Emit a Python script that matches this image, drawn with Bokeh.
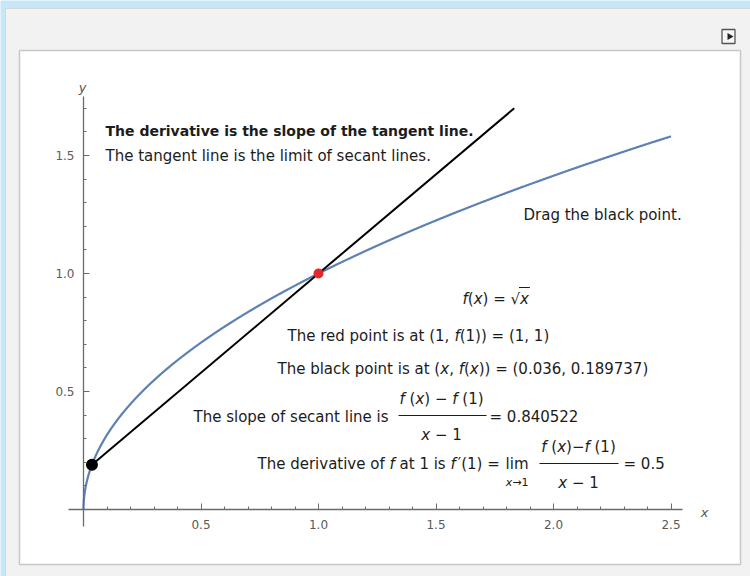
import numpy as np
from bokeh.plotting import figure
from bokeh.models import LinearAxis, FixedTicker, PrintfTickFormatter, Range1d
from bokeh.core.properties import value
from bokeh.embed import file_html
from bokeh.resources import INLINE

# ---- data -------------------------------------------------------------
x_red = [1.0]          # fixed point (1, f(1))
y_red = [1.0]
x_black = [0.036]      # draggable point (x, f(x))
y_black = [0.189737]
x_domain = [0.0, 2.5]  # plotted domain of f(x) = sqrt(x)
y_plot_top = 1.7       # upper edge of the plot range (secant line is clipped here)
derivative_at_1 = 0.5

x_ticks = [0.5, 1.0, 1.5, 2.0, 2.5]
y_ticks = [0.5, 1.0, 1.5]
x_minor = [0.1, 0.2, 0.3, 0.4, 0.6, 0.7, 0.8, 0.9, 1.1, 1.2, 1.3, 1.4,
           1.6, 1.7, 1.8, 1.9, 2.1, 2.2, 2.3, 2.4]
y_minor = [0.1, 0.2, 0.3, 0.4, 0.6, 0.7, 0.8, 0.9, 1.1, 1.2, 1.3, 1.4, 1.6, 1.7]

# ---- canvas geometry (pixels) -----------------------------------------
W, H = 750, 576
X0, Y0 = 83, 509        # pixel position of the origin
SX, SY = 235, 236       # pixels per unit


def dx(px):
    return (px - X0) / SX


def dy(py):
    return (Y0 - py) / SY


FONT = "DejaVu Sans"
INK = "#1c1c1c"

p = figure(width=W, height=H,
           x_range=Range1d(dx(0), dx(W)), y_range=Range1d(dy(H), dy(0)),
           x_axis_type=None, y_axis_type=None,
           toolbar_location=None, output_backend="svg", min_border=0,
           background_fill_color="#c6e7f8", border_fill_color="#c6e7f8",
           outline_line_color=None)

# Manipulate-style panel: grey outer frame, white content pane, play button
p.quad(left=[dx(5)], right=[dx(760)], top=[dy(8)], bottom=[dy(590)],
       fill_color="#f2f2f2", line_color="#d6d6d6", line_width=1)
p.quad(left=[dx(19)], right=[dx(740)], top=[dy(50)], bottom=[dy(564)],
       fill_color="#ffffff", line_color="#c8c8c8", line_width=1.5)
p.rect(x=[dx(728)], y=[dy(36)], width=13, height=14,
       width_units="screen", height_units="screen",
       fill_color="#f7f7f7", line_color="#555555", line_width=1.3)
p.scatter(x=[dx(729)], y=[dy(36)], marker="triangle", size=7,
          angle=-np.pi / 2, fill_color="#222222", line_color=None)

# ---- axes through the origin -------------------------------------------
AX = "#6a6a6a"
TICK_LABEL = "#5a5a5a"
xaxis = LinearAxis(fixed_location=0, bounds=(-0.064, 2.55),
                   ticker=FixedTicker(ticks=x_ticks, minor_ticks=x_minor),
                   formatter=PrintfTickFormatter(format="%.1f"),
                   axis_line_color=AX, axis_line_width=1.3,
                   major_tick_in=6, major_tick_out=0,
                   minor_tick_in=3, minor_tick_out=0,
                   major_tick_line_color=AX, minor_tick_line_color=AX,
                   major_label_text_font=FONT, major_label_text_font_size="12px",
                   major_label_text_color=TICK_LABEL, major_label_standoff=10)
yaxis = LinearAxis(fixed_location=0, bounds=(-0.07, 1.75),
                   ticker=FixedTicker(ticks=y_ticks, minor_ticks=y_minor),
                   formatter=PrintfTickFormatter(format="%.1f"),
                   axis_line_color=AX, axis_line_width=1.3,
                   major_tick_in=6, major_tick_out=0,
                   minor_tick_in=3, minor_tick_out=0,
                   major_tick_line_color=AX, minor_tick_line_color=AX,
                   major_label_text_font=FONT, major_label_text_font_size="12px",
                   major_label_text_color=TICK_LABEL, major_label_standoff=9)
p.add_layout(xaxis, "below")
p.add_layout(yaxis, "left")

p.text(x=[dx(704), dx(82)], y=[dy(512), dy(87)], text=["x", "y"],
       text_font=value(FONT), text_font_style="italic", text_font_size="13px",
       text_color=TICK_LABEL, text_align="center", text_baseline="middle")

# ---- f(x) = sqrt(x), secant line and the two points ----------------------
t = np.linspace(0.0, 1.0, 900) ** 2
xs = x_domain[0] + (x_domain[1] - x_domain[0]) * t
p.line(xs, np.sqrt(xs), line_color="#5e81b5", line_width=2.2)

slope = (y_red[0] - y_black[0]) / (x_red[0] - x_black[0])
x_end = x_black[0] + (y_plot_top - y_black[0]) / slope
p.line([x_black[0], x_end], [y_black[0], y_plot_top], line_color="black", line_width=2)

p.scatter(x_red, y_red, size=10, fill_color="#e6262b", line_color=None)
p.scatter(x_black, y_black, size=12, fill_color="black", line_color=None)

# ---- annotation text --------------------------------------------------
ADV = {" ": .318, "(": .390, ")": .390, ",": .318, ".": .318, "=": .838,
       "\u2212": .838, "\u2192": .838, "\u221a": .636, "\u2032": .300,
       "a": .613, "b": .635, "c": .550, "d": .635, "e": .615, "f": .352,
       "g": .635, "h": .634, "i": .278, "k": .579, "l": .278, "m": .974,
       "n": .634, "o": .612, "p": .635, "r": .411, "s": .521, "t": .392,
       "u": .634, "v": .592, "x": .592, "y": .592, "T": .611, "D": .770}
for d in "0123456789":
    ADV[d] = .636

groups = {}


def width(s, size):
    return sum(ADV.get(c, .6) for c in s) * size


def run(parts, x_left, y_mid, size=15):
    """Lay out styled pieces left to right; returns the end x (pixels)."""
    x = x_left
    for txt, style in parts:
        # SVG drops leading blanks, so turn them into an x advance instead
        body = txt.lstrip(" ")
        x += width(txt[:len(txt) - len(body)], size)
        if body:
            groups.setdefault((style, size), []).append((x, y_mid, body))
        x += width(body, size)
    return x


def run_centered(parts, x_center, y_mid, size=15):
    total = sum(width(t_, size) for t_, _ in parts)
    return run(parts, x_center - total / 2, y_mid, size)


def num(v):
    return f"{v:g}"


N, I = "normal", "italic"

run([("The tangent line is the limit of secant lines.", N)], 105, 155)
run([("Drag the black point.", N)], 523, 214)

# f(x) = sqrt(x)
x_rad = run([("f", I), ("(", N), ("x", I), (") = ", N), ("\u221a", N)], 462, 298)
x_rad_end = run([("x", I)], x_rad, 298)
p.segment(x0=[dx(x_rad - 1)], y0=[dy(287)], x1=[dx(x_rad_end + 1)], y1=[dy(287)],
          line_color=INK, line_width=1)

run([(f"The red point is at ({num(x_red[0])}, ", N), ("f", I),
     (f"({num(x_red[0])})) = ({num(x_red[0])}, {num(y_red[0])})", N)], 287, 335)

run([("The black point is at (", N), ("x", I), (", ", N), ("f", I), ("(", N),
     ("x", I), (f")) = ({num(x_black[0])}, {num(y_black[0])})", N)], 277, 368)

# slope of the secant line
run([("The slope of secant line is ", N)], 193, 416)
run_centered([("f", I), (" (", N), ("x", I), (") \u2212 ", N), ("f", I), (" (1)", N)], 441, 398)
run_centered([("x", I), (" \u2212 1", N)], 441, 434)
p.segment(x0=[dx(398)], y0=[dy(415)], x1=[dx(486)], y1=[dy(415)], line_color=INK, line_width=1)
run([(f"= {slope:.6f}", N)], 489, 416)

# derivative as the limit
x_f = run([("The derivative of ", N), ("f", I), (" at 1 is ", N), ("f", I)], 257, 463)
x_lim = run([("\u2032(1) = ", N)], x_f + 2, 463)
x_lim_end = run([("lim", N)], x_lim, 463)
run_centered([("x", I), ("\u21921", N)], (x_lim + x_lim_end) / 2, 482, size=11)
run_centered([("f", I), (" (", N), ("x", I), (")\u2212", N), ("f", I), (" (1)", N)], 578, 446)
run_centered([("x", I), (" \u2212 1", N)], 578, 482)
p.segment(x0=[dx(539)], y0=[dy(463)], x1=[dx(618)], y1=[dy(463)], line_color=INK, line_width=1)
run([(f"= {derivative_at_1:g}", N)], 623, 463)

for (style, size), items in groups.items():
    p.text(x=[dx(a) for a, _, _ in items], y=[dy(b) for _, b, _ in items],
           text=[s for _, _, s in items],
           text_font=value(FONT), text_font_style=style,
           text_font_size=f"{size}px", text_color=INK,
           text_align="left", text_baseline="middle")

p.text(x=[dx(105)], y=[dy(130)], text=["The derivative is the slope of the tangent line."],
       text_font=value(FONT), text_font_style="bold", text_font_size="14px",
       text_color=INK, text_align="left", text_baseline="middle")

open("out.html", "w").write(file_html(p, INLINE))
